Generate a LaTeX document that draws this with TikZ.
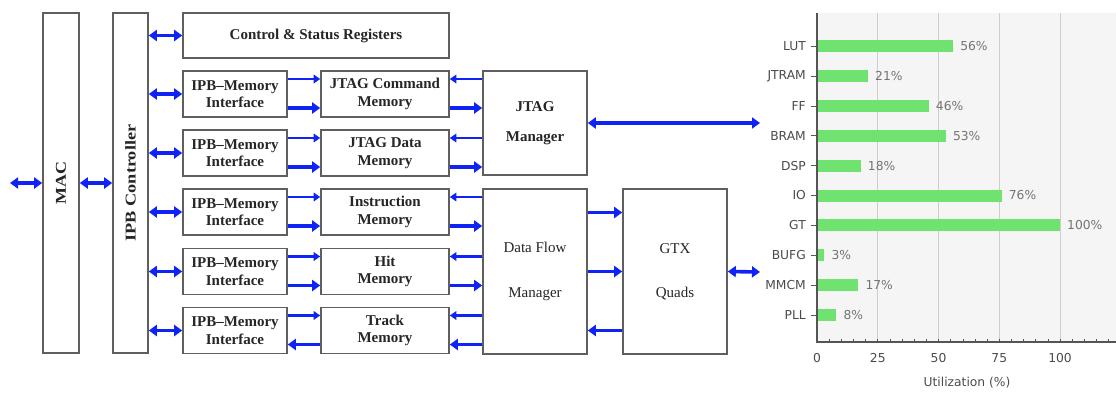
\documentclass[tikz,border=0pt]{standalone}
\usepackage{fontspec}
\setmainfont{Liberation Serif}
\newfontfamily\chartfont{DejaVu Sans}
\usetikzlibrary{arrows.meta}
\definecolor{arrblue}{RGB}{15,35,245}
\definecolor{boxgray}{RGB}{95,95,95}
\definecolor{bargreen}{RGB}{112,226,112}
\definecolor{plotbg}{RGB}{245,245,245}
\definecolor{gridgray}{RGB}{205,205,205}
\definecolor{axisgray}{RGB}{85,85,85}
\definecolor{labgray}{RGB}{75,75,75}
\definecolor{vallabgray}{RGB}{115,115,115}
\begin{document}
\begin{tikzpicture}[x=1pt,y=-1pt,
  box/.style={draw=boxgray, line width=1.6pt, fill=white, inner sep=0pt, align=center,
    font=\fontsize{15}{17.5}\selectfont\bfseries, text=black!85},
  btxt/.style={inner sep=0pt, font=\fontsize{15}{17.5}\selectfont\bfseries, text=black!85},
  thk/.style={draw=arrblue, line width=3.6pt},
  thn/.style={draw=arrblue, line width=2.3pt},
  dbl/.style={thk, {Triangle[length=8pt,width=11pt]}-{Triangle[length=8pt,width=11pt]}},
  thkR/.style={thk, -{Triangle[length=8pt,width=11pt]}},
  thnR/.style={thn, -{Triangle[length=6.5pt,width=8.5pt]}},
  thkL/.style={thk, {Triangle[length=8pt,width=11pt]}-},
  thnL/.style={thn, {Triangle[length=6.5pt,width=8.5pt]}-},
  clab/.style={inner sep=0pt, font=\chartfont\fontsize{12.3}{14}\selectfont, text=labgray},
  vlab/.style={inner sep=0pt, font=\chartfont\fontsize{12.3}{14}\selectfont, text=vallabgray},
]
\useasboundingbox (0,0) rectangle (1116,394);

% ---------- block diagram ----------
\node[box, minimum width=36pt, minimum height=340pt] (mac) at (61,183) {};
\node[btxt, rotate=90] (mact) at (61,183) {\scalebox{1.2}[1]{MAC}};
\node[box, minimum width=35pt, minimum height=340pt] (ipb) at (130.5,183) {};
\node[btxt, rotate=90] (ipbt) at (130.5,183) {\scalebox{1.22}[1]{IPB Controller}};

\node[box, minimum width=266pt, minimum height=45pt] (csr) at (316,35.5) {Control \& Status Registers};

\foreach \i/\y/\txt in {1/94/{JTAG Command\\Memory},2/153/{JTAG Data\\Memory},3/212/{Instruction\\Memory},4/271.5/{Hit\\Memory},5/330.5/{Track\\Memory}}{
  \node[box, minimum width=104pt, minimum height=46pt] (imi\i) at (235,\y) {IPB--Memory\\Interface};
  \node[box, minimum width=128pt, minimum height=46pt] (mem\i) at (385,\y) {\txt};
}

\node[box, minimum width=104pt, minimum height=104pt] (jm) at (535,123) {JTAG\\[12pt]Manager};
\node[box, minimum width=104pt, minimum height=165pt, font=\fontsize{15}{17.5}\selectfont] (dfm) at (535,271.5) {Data Flow\\[27pt]Manager};
\node[box, minimum width=104pt, minimum height=165pt, font=\fontsize{15}{17.5}\selectfont] (gtx) at (675,271.5) {GTX\\[27pt]Quads};

\coordinate (ext) at (10,183);
\coordinate (jmout) at (760,123);
\coordinate (gtxout) at (760,272);

% double arrows
\draw[dbl] (ext) -- (mac.west);
\draw[dbl] (mac.east) -- (ipb.west);
\draw[dbl] (ipb.east |- csr.west) -- (csr.west);
\foreach \i in {1,...,5}{
  \draw[dbl] (ipb.east |- imi\i.west) -- (imi\i.west);
}
\draw[dbl] (jm.east) -- (jmout);
\draw[dbl] (gtx.east) -- (gtxout);

% interface -> memory
\foreach \i in {1,...,4}{
  \draw[thnR] ([yshift=15pt]imi\i.east) -- ([yshift=15pt]mem\i.west);
  \draw[thkR] ([yshift=-14pt]imi\i.east) -- ([yshift=-14pt]mem\i.west);
}
\draw[thnR] ([yshift=15pt]imi5.east) -- ([yshift=15pt]mem5.west);
\draw[thkL] ([yshift=-14pt]imi5.east) -- ([yshift=-14pt]mem5.west);

% memory <-> managers
\foreach \i in {1,2}{
  \draw[thnL] ([yshift=15pt]mem\i.east) -- ([yshift=15pt]mem\i.east -| jm.west);
  \draw[thkR] ([yshift=-14pt]mem\i.east) -- ([yshift=-14pt]mem\i.east -| jm.west);
}
\foreach \i in {3,4}{
  \draw[thnL] ([yshift=15pt]mem\i.east) -- ([yshift=15pt]mem\i.east -| dfm.west);
  \draw[thkR] ([yshift=-14pt]mem\i.east) -- ([yshift=-14pt]mem\i.east -| dfm.west);
}
\draw[thnL] ([yshift=15pt]mem5.east) -- ([yshift=15pt]mem5.east -| dfm.west);
\draw[thkL] ([yshift=-14pt]mem5.east) -- ([yshift=-14pt]mem5.east -| dfm.west);

% data flow manager <-> GTX
\draw[thkR] ([yshift=59pt]dfm.east) -- ([yshift=59pt]gtx.west);
\draw[thkR] (dfm.east) -- (gtx.west);
\draw[thkL] ([yshift=-59pt]dfm.east) -- ([yshift=-59pt]gtx.west);

% ---------- utilization chart ----------
\fill[plotbg] (817,13) rectangle (1116,342);
\foreach \v in {25,50,75,100}{
  \draw[gridgray, line width=1pt] ({817+2.43*\v},13) -- ({817+2.43*\v},342);
}
\foreach \lab/\val/\i in {LUT/56/0,JTRAM/21/1,FF/46/2,BRAM/53/3,DSP/18/4,IO/76/5,GT/100/6,BUFG/3/7,MMCM/17/8,PLL/8/9}{
  \fill[bargreen] (817,{46+29.9*\i-6}) rectangle ({817+2.43*\val},{46+29.9*\i+6});
  \node[clab, anchor=east] (cat\i) at (806,{46+29.9*\i}) {\lab};
  \draw[axisgray, line width=0.6pt] (811,{46+29.9*\i}) -- (817,{46+29.9*\i});
  \node[vlab, anchor=west] (val\i) at ({817+2.43*\val+7},{46+29.9*\i}) {\val\%};
}
\draw[axisgray, line width=1.2pt] (817,13) -- (817,342) -- (1116,342);
\foreach \k in {0,...,24}{
  \draw[axisgray, line width=0.6pt] ({817+12.15*\k},338.5) -- ({817+12.15*\k},342);
}
\foreach \v in {0,25,50,75,100}{
  \node[clab] (tick\v) at ({817+2.43*\v},358) {\v};
}
\node[clab] (xlabel) at (967,383) {Utilization (\%)};
\end{tikzpicture}
\end{document}
